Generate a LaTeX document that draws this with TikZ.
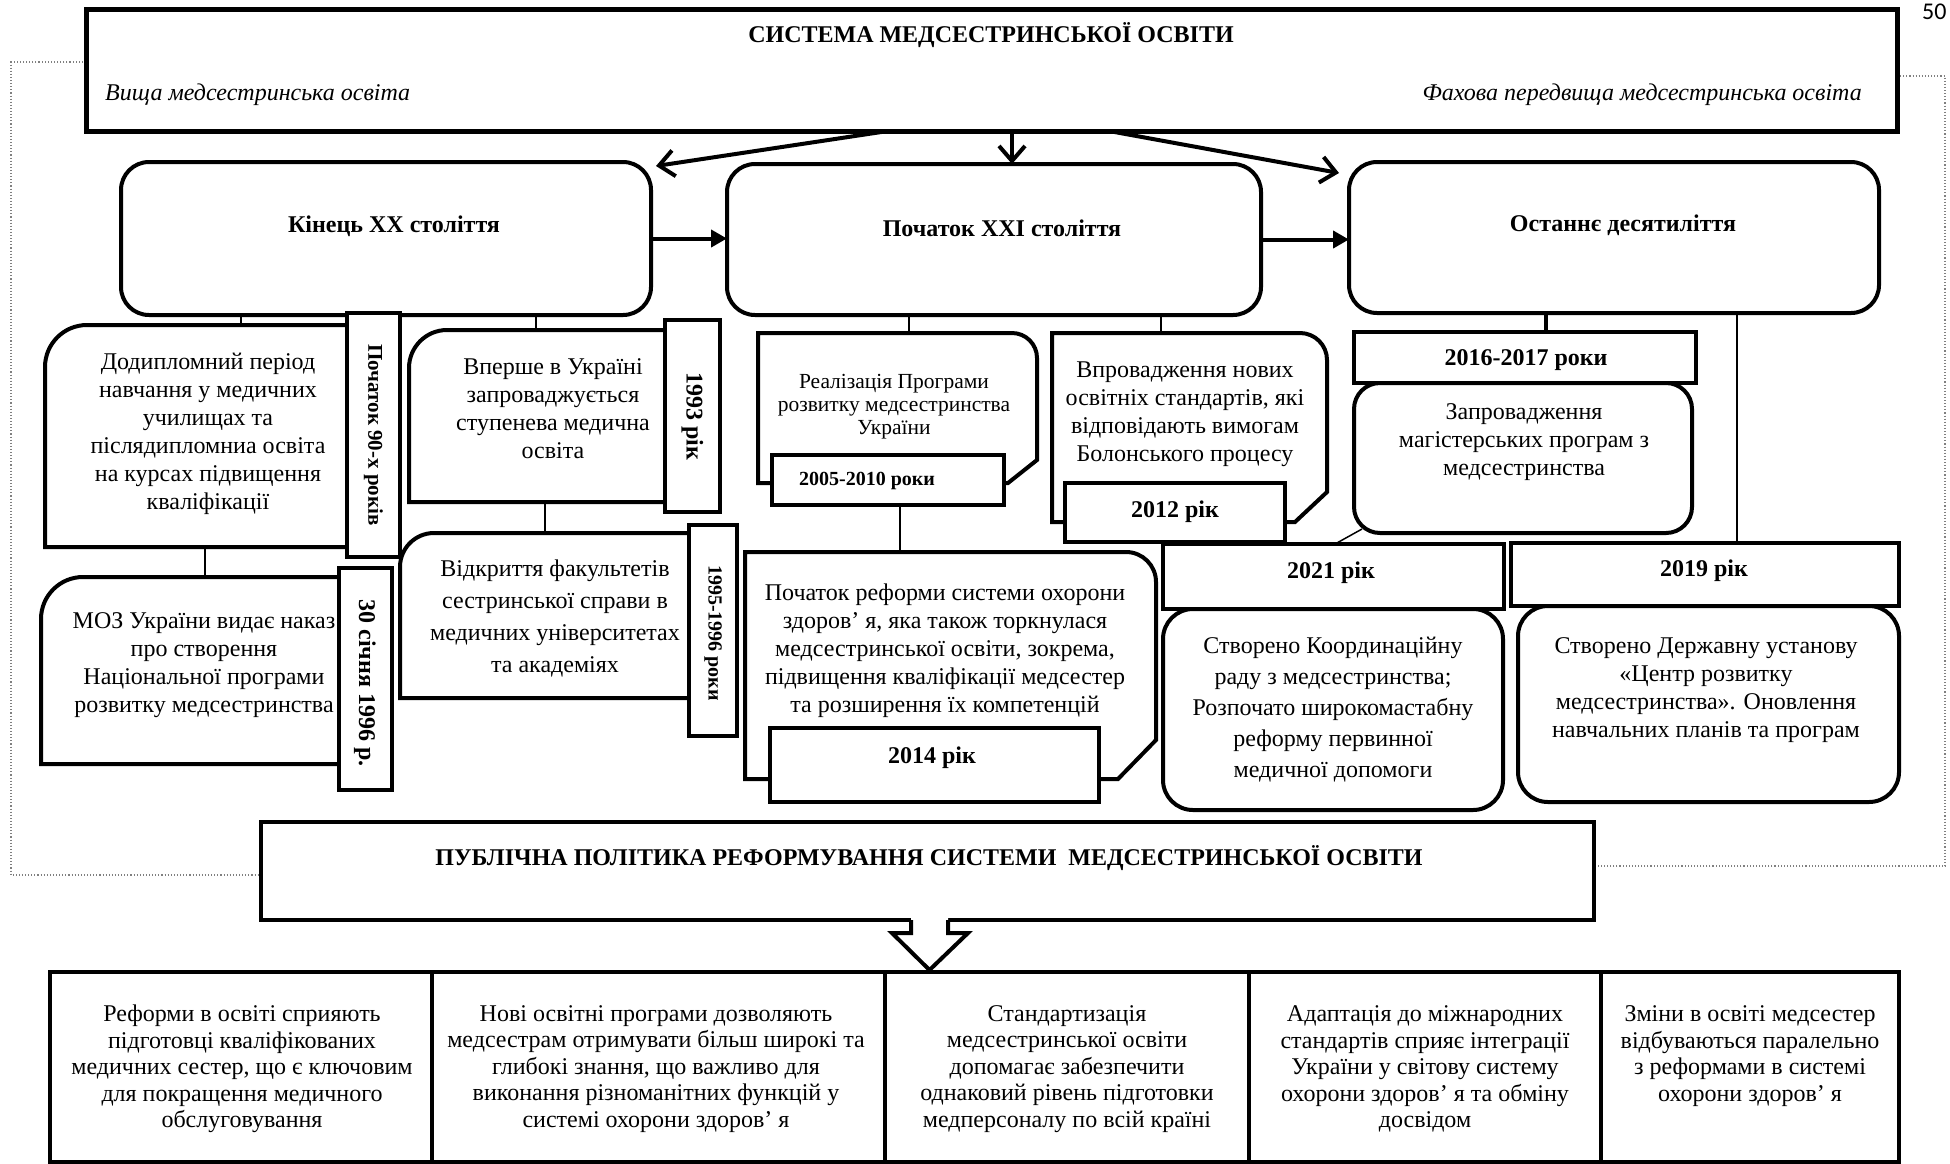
\documentclass[tikz,border=0pt]{standalone}
\usepackage{fontspec}
\setmainfont{Liberation Serif}
\newfontfamily\pgnumfont{Carlito}
\usetikzlibrary{arrows.meta,calc}

% invisible named node spanning the rectangle (x1,y1)-(x2,y2)
\newcommand{\mkbox}[5]{%
  \pgfmathsetmacro\bw{#4-#2}\pgfmathsetmacro\bh{#5-#3}%
  \pgfmathsetmacro\bcx{(#2+#4)/2}\pgfmathsetmacro\bcy{(#3+#5)/2}%
  \node[inner sep=0pt, outer sep=0pt, minimum width=\bw pt, minimum height=\bh pt] (#1) at (\bcx,\bcy) {};}

% outline with one rounded top-left corner
\newcommand{\cornerbox}[2]{%
  \draw[heavy] (#1.south west) -- ($(#1.north west)+(0,#2)$)
    arc[start angle=180,end angle=270,radius=#2] -- (#1.north east) -- (#1.south east) -- cycle;}

% outline with rounded top-right corner and snipped bottom-right corner
\newcommand{\snipbox}[4]{%
  \draw[heavy] (#1.south west) -- (#1.north west) -- ($(#1.north east)+(-#2,0)$)
    arc[start angle=270,end angle=360,radius=#2] -- ($(#1.south east)+(0,-#3)$)
    -- ($(#1.south east)+(-#4,0)$) -- cycle;}

\tikzset{
  heavy/.style={line width=4pt, draw=black, fill=white, line join=miter},
  thinline/.style={line width=1.5pt, draw=black},
  body/.style={align=center, inner sep=0pt, font=\fontsize{24}{28}\selectfont},
  bodyb/.style={align=center, inner sep=0pt, font=\bfseries\fontsize{24}{28}\selectfont},
  outcome/.style={body, font=\fontsize{24}{26.5}\selectfont},
  ital/.style={inner sep=0pt, font=\itshape\fontsize{24}{28}\selectfont},
  vtag/.style={bodyb, rotate=-90},
  frameline/.style={dotted, line width=1.1pt, draw=black!50},
  barb/.style={line width=4pt, -{Straight Barb[length=15pt,width=26pt]}},
  solidtip/.style={line width=4pt, -{Triangle[length=16pt,width=17pt]}},
}

\begin{document}
\begin{tikzpicture}[x=1pt,y=-1pt]
\useasboundingbox (0,0) rectangle (1950,1163);
\clip (0,0) rectangle (1950,1163);
\fill[white] (0,0) rectangle (1950,1163);

% ---------- geometry ----------
\mkbox{T}{86}{9}{1897}{131}
\mkbox{B1}{121}{162}{651}{315}
\mkbox{B2}{727}{164}{1261}{315}
\mkbox{B3}{1349}{162}{1879}{313}
\mkbox{A}{45}{325}{347}{547}
\mkbox{L90}{347}{313}{400}{557}
\mkbox{B}{409}{330}{665}{502}
\mkbox{L93}{665}{320}{720}{512}
\mkbox{C}{41}{577}{342}{764}
\mkbox{L30}{339}{568}{392}{790}
\mkbox{D}{400}{533}{689}{698}
\mkbox{L95}{689}{525}{737}{736}
\mkbox{E}{758}{333}{1037}{483}
\mkbox{L05}{772}{455}{1004}{505}
\mkbox{F}{745}{552}{1156}{779}
\mkbox{L14}{770}{728}{1099}{802}
\mkbox{G}{1052}{333}{1327}{522}
\mkbox{L12}{1065}{483}{1285}{542}
\mkbox{L16}{1354}{332}{1696}{383}
\mkbox{H}{1354}{383}{1692}{533}
\mkbox{L21}{1163}{544}{1504}{609}
\mkbox{J}{1163}{609}{1503}{810}
\mkbox{L19}{1511}{543}{1899}{606}
\mkbox{I}{1518}{606}{1899}{802}
\mkbox{P}{261}{822}{1594}{920}
\mkbox{K1}{50}{972}{432}{1162}
\mkbox{K2}{432}{972}{885}{1162}
\mkbox{K3}{885}{972}{1249}{1162}
\mkbox{K4}{1249}{972}{1601}{1162}
\mkbox{K5}{1601}{972}{1899}{1162}

\coordinate (xa) at (888,0);
\coordinate (xm) at (1012,0);
\coordinate (xr) at (1109,0);
\coordinate (x205) at (205,0);
\coordinate (x241) at (241,0);
\coordinate (x536) at (536,0);
\coordinate (x545) at (545,0);
\coordinate (x900) at (900,0);
\coordinate (x909) at (909,0);
\coordinate (x1161) at (1161,0);
\coordinate (x1546) at (1546,0);
\coordinate (x1737) at (1737,0);

% ---------- dotted frame ----------
\draw[frameline] (86,62) -- (11,62) -- (11,875) -- (261,875);
\draw[frameline] (1897,76) -- (1945,76) -- (1945,866) -- (1594,866);

% ---------- thin connectors ----------
\draw[thinline] (B1.south -| x241) -- (A.north -| x241);
\draw[thinline] (B1.south -| x536) -- (B.north -| x536);
\draw[thinline] (A.south -| x205) -- (C.north -| x205);
\draw[thinline] (B.south -| x545) -- (D.north -| x545);
\draw[thinline] (B2.south -| x909) -- (E.north -| x909);
\draw[thinline] (B2.south -| x1161) -- (G.north -| x1161);
\draw[thinline] (L05.south -| x900) -- (F.north -| x900);
\draw[line width=4pt] (B3.south -| x1546) -- (L16.north -| x1546);
\draw[thinline] (B3.south -| x1737) -- (L19.north -| x1737);
\draw[thinline] ($(H.south west)+(8,-4)$) -- ($(L21.north west)+(172,0)$);

% ---------- main boxes ----------
\draw[heavy, line width=5pt] (T.north west) rectangle (T.south east);
\draw[heavy, rounded corners=28pt] (B1.north west) rectangle (B1.south east);
\draw[heavy, rounded corners=28pt] (B2.north west) rectangle (B2.south east);
\draw[heavy, rounded corners=28pt] (B3.north west) rectangle (B3.south east);

\cornerbox{A}{42}
\cornerbox{B}{38}
\cornerbox{C}{42}
\cornerbox{D}{34}
\snipbox{E}{25}{23}{29}
\snipbox{F}{30}{39}{38}
\snipbox{G}{27}{30}{32}
\draw[heavy, rounded corners=26pt] (H.north west) rectangle (H.south east);
\draw[heavy, rounded corners=30pt] (J.north west) rectangle (J.south east);
\draw[heavy, rounded corners=30pt] (I.north west) rectangle (I.south east);

% ---------- date tags ----------
\foreach \t in {L90,L93,L30,L95,L05,L14,L12,L16,L21,L19}
  \draw[heavy] (\t.north west) rectangle (\t.south east);

% ---------- arrows ----------
\draw[barb] (T.south -| xa) -- ($(B1.north east)+(5,4)$);
\draw[barb] (T.south -| xm) -- (B2.north -| xm);
\draw[barb] (T.south -| xr) -- ($(B3.north west)+(-10,11)$);
\draw[solidtip] (B1.east) -- (B1.east -| B2.west);
\draw[solidtip] (B2.east) -- (B2.east -| B3.west);

% ---------- policy box, hollow arrow, outcome boxes ----------
\draw[heavy] (P.north west) rectangle (P.south east);
\foreach \k in {K1,K2,K3,K4,K5}
  \draw[heavy] (\k.north west) rectangle (\k.south east);
\coordinate (ba) at ($(P.south)+(2,0)$);
\begin{scope}[shift={(ba)}]
  \fill[white] (-18.5,-2) -- (-18.5,13) -- (-37.5,13) -- (0,50) -- (38.5,13) -- (18.5,13) -- (18.5,-2) -- cycle;
  \draw[line width=4pt, line join=miter] (-18.5,0) -- (-18.5,13) -- (-37.5,13) -- (0,50) -- (38.5,13) -- (18.5,13) -- (18.5,0);
\end{scope}

% ---------- texts ----------
\node[bodyb] (tTitle) at (991,35) {СИСТЕМА МЕДСЕСТРИНСЬКОЇ ОСВІТИ};
\node[ital, anchor=base west] (tHigh) at (105,100) {Вища медсестринська освіта};
\node[ital, anchor=base east] (tPre) at (1862,100) {Фахова передвища медсестринська освіта};

\node[bodyb] (tB1) at (394,226) {Кінець XX століття};
\node[bodyb] (tB2) at (1002,228) {Початок XXI століття};
\node[bodyb] (tB3) at (1623,225) {Останнє десятиліття};

\node[body] (tA) at (208,434) {Додипломний період\\навчання у медичних\\училищах та\\післядипломниа освіта\\на курсах підвищення\\кваліфікації};
\node[vtag, font=\bfseries\fontsize{21}{24}\selectfont] (tL90) at (L90) {Початок 90-х років};

\node[body] (tB) at (553,409) {Вперше в Україні\\запроваджується\\ступенева медична\\освіта};
\node[vtag] (tL93) at (L93) {1993 рік};

\node[body] (tC) at (204,665) {МОЗ України видає наказ\\про створення\\Національної програми\\розвитку медсестринства};
\node[vtag] (tL30) at (365,683) {30 січня 1996 р.};

\node[body, font=\fontsize{24}{32}\selectfont] (tD) at (555,618) {Відкриття факультетів\\сестринської справи в\\медичних університетах\\та академіях};
\node[vtag, font=\bfseries\fontsize{20}{24}\selectfont] (tL95) at (713,633) {1995-1996 роки};

\node[body, font=\fontsize{21.5}{23}\selectfont] (tE) at (894,407) {Реалізація Програми\\розвитку медсестринства\\України};
\node[bodyb, font=\bfseries\fontsize{20}{24}\selectfont] (tL05) at (867,481) {2005-2010 роки};

\node[body] (tF) at (945,651) {Початок реформи системи охорони\\здоров’ я, яка також торкнулася\\медсестринської освіти, зокрема,\\підвищення кваліфікації медсестер\\та розширення їх компетенцій};
\node[bodyb] (tL14) at (932,758) {2014 рік};

\node[body] (tG) at (1185,414) {Впровадження нових\\освітніх стандартів, які\\відповідають вимогам\\Болонського процесу};
\node[bodyb] (tL12) at (1175,512) {2012 рік};

\node[bodyb] (tL16) at (1526,360) {2016-2017 роки};
\node[body] (tH) at (1524,442) {Запровадження\\магістерських програм з\\медсестринства};

\node[bodyb] (tL21) at (1331,573) {2021 рік};
\node[body, font=\fontsize{24}{31}\selectfont] (tJ) at (1333,710) {Створено Координаційну\\раду з медсестринства;\\Розпочато широкомастабну\\реформу первинної\\медичної допомоги};

\node[bodyb] (tL19) at (1704,571) {2019 рік};
\node[body] (tI) at (1706,690) {Створено Державну установу\\«Центр розвитку\\медсестринства». Оновлення\\навчальних планів та програм};

\node[bodyb] (tP) at (929,858) {ПУБЛІЧНА ПОЛІТИКА РЕФОРМУВАННЯ СИСТЕМИ\ \ МЕДСЕСТРИНСЬКОЇ ОСВІТИ};

\node[outcome] (tK1) at (242,1069) {Реформи в освіті сприяють\\підготовці кваліфікованих\\медичних сестер, що є ключовим\\для покращення медичного\\обслуговування};
\node[outcome] (tK2) at (656,1069) {Нові освітні програми дозволяють\\медсестрам отримувати більш широкі та\\глибокі знання, що важливо для\\виконання різноманітних функцій у\\системі охорони здоров’ я};
\node[outcome] (tK3) at (1067,1069) {Стандартизація\\медсестринської освіти\\допомагає забезпечити\\однаковий рівень підготовки\\медперсоналу по всій країні};
\node[outcome] (tK4) at (1425,1069) {Адаптація до міжнародних\\стандартів сприяє інтеграції\\України у світову систему\\охорони здоров’ я та обміну\\досвідом};
\node[outcome] (tK5) at (1750,1056) {Зміни в освіті медсестер\\відбуваються паралельно\\з реформами в системі\\охорони здоров’ я};

\node[anchor=base west, inner sep=0pt, font=\pgnumfont\fontsize{24}{28}\selectfont] (pg) at (1922,19) {50};
\end{tikzpicture}
\end{document}
